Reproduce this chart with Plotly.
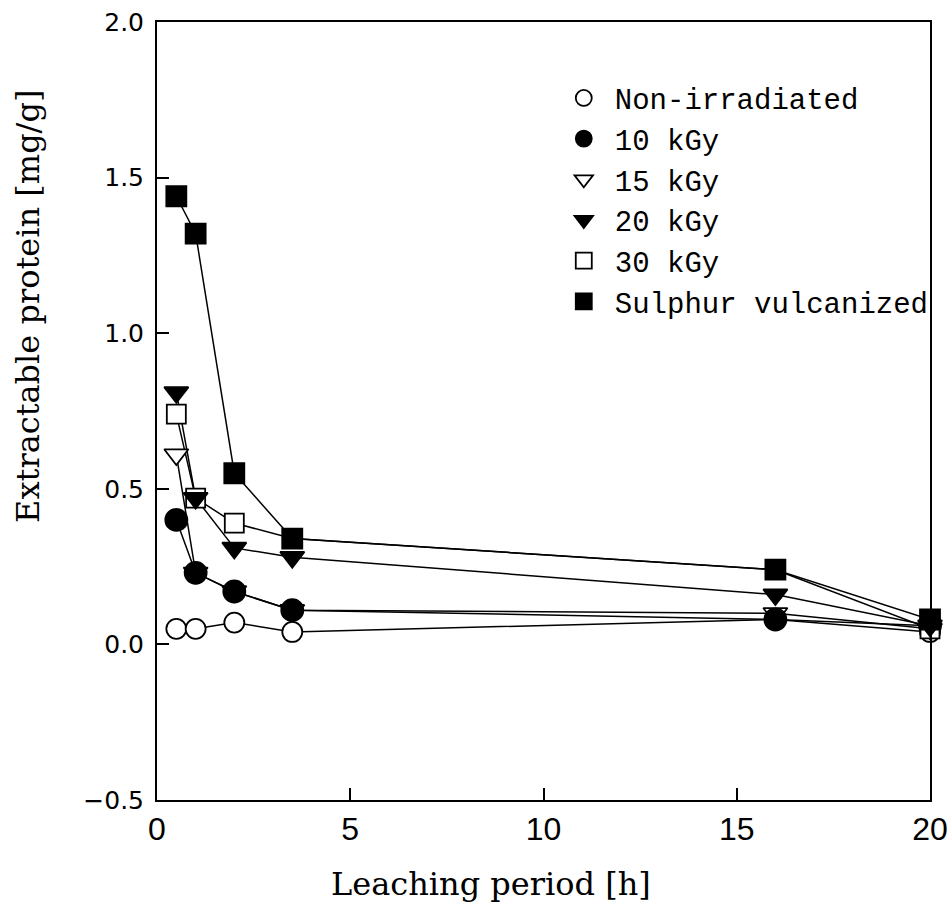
import plotly.graph_objects as go

hours = [0.5, 1, 2, 3.5, 16, 20]

non_irradiated = [0.05, 0.05, 0.07, 0.04, 0.08, 0.04]
kgy10 = [0.40, 0.23, 0.17, 0.11, 0.08, 0.06]
kgy15 = [0.61, 0.23, 0.17, 0.11, 0.10, 0.05]
kgy20 = [0.81, 0.47, 0.31, 0.28, 0.16, 0.06]
kgy30 = [0.74, 0.47, 0.39, 0.34, 0.24, 0.05]
sulphur = [1.44, 1.32, 0.55, 0.34, 0.24, 0.08]

series_names = ["Non-irradiated", "10 kGy", "15 kGy", "20 kGy", "30 kGy", "Sulphur vulcanized"]
series_values = [non_irradiated, kgy10, kgy15, kgy20, kgy30, sulphur]
symbols = ["circle", "circle", "triangle-down", "triangle-down", "square", "square"]
fills = ["white", "black", "white", "black", "white", "black"]
sizes = [20, 22, 21, 21, 19, 20]
draw_order = [0, 2, 1, 4, 3, 5]  # which series is painted on top of which

x_ticks = [0, 5, 10, 15, 20]
y_ticks = [-0.5, 0.0, 0.5, 1.0, 1.5, 2.0]
y_ticktext = ["\u22120.5", "0.0", "0.5", "1.0", "1.5", "2.0"]

fig = go.Figure()

# connecting lines
for name, vals in zip(series_names, series_values):
    fig.add_trace(go.Scatter(
        x=hours, y=vals, mode="lines", showlegend=False,
        line=dict(color="black", width=1.5), hoverinfo="skip", cliponaxis=False))

# markers
for i in draw_order:
    fig.add_trace(go.Scatter(
        x=hours, y=series_values[i], mode="markers", name=series_names[i],
        legendrank=i + 1,
        marker=dict(symbol=symbols[i], size=sizes[i], color=fills[i],
                    line=dict(color="black", width=1.8)),
        cliponaxis=False))

fig.update_layout(
    width=947, height=924,
    margin=dict(l=157, r=17, t=22, b=124, autoexpand=False),
    paper_bgcolor="white", plot_bgcolor="white",
    showlegend=True,
    legend=dict(x=0.512, y=0.935, xanchor="left", yanchor="top",
                bgcolor="rgba(0,0,0,0)", borderwidth=0, itemwidth=52,
                font=dict(family="Liberation Mono, Courier New, monospace", size=29, color="black"),
                tracegroupgap=4, traceorder="normal"),
    xaxis=dict(range=[0, 20], tickvals=x_ticks, ticktext=[str(v) for v in x_ticks],
               ticks="inside", ticklen=12, tickwidth=1.5, tickcolor="black",
               showline=True, linecolor="black", linewidth=2, mirror=True,
               showgrid=False, zeroline=False, ticklabeloverflow="allow", automargin=False,
               tickfont=dict(family="Liberation Sans Narrow, Liberation Sans, Arial", size=32, color="black")),
    yaxis=dict(range=[-0.5, 2.0], tickvals=y_ticks, ticktext=y_ticktext,
               ticks="inside", ticklen=12, tickwidth=1.5, tickcolor="black",
               showline=True, linecolor="black", linewidth=2, mirror=True,
               showgrid=False, zeroline=False, ticklabelstandoff=6, automargin=False,
               tickfont=dict(family="DejaVu Sans, Arial", size=25, color="black")),
    annotations=[
        dict(text="Extractable protein [mg/g]", xref="paper", yref="paper",
             x=-0.167, y=0.635, xanchor="center", yanchor="middle", textangle=-90,
             showarrow=False, font=dict(family="DejaVu Serif, serif", size=32, color="black")),
        dict(text="Leaching period [h]", xref="paper", yref="paper",
             x=0.432, y=-0.108, xanchor="center", yanchor="middle",
             showarrow=False, font=dict(family="DejaVu Serif, serif", size=32, color="black")),
    ],
)

fig.write_html("out.html")
